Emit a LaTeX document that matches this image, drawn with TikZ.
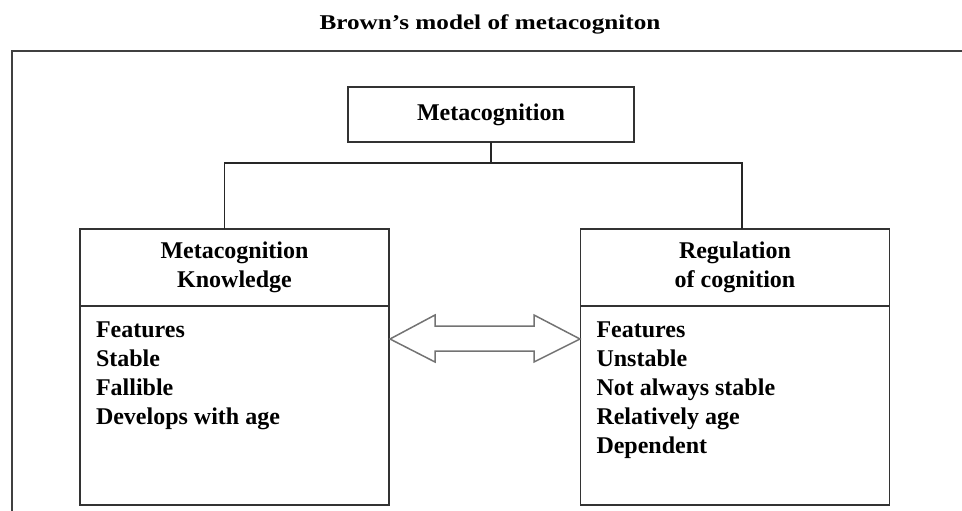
\documentclass[tikz,border=0pt]{standalone}
\usepackage{fontspec}
\setmainfont{Liberation Serif}
\usetikzlibrary{positioning}

\tikzset{
  box/.style={draw=black!80, line width=1.6pt, rectangle, inner sep=0pt, outer sep=0pt,
    font=\bfseries\fontsize{24}{29}\selectfont},
  head/.style={box, minimum width=309pt, minimum height=77pt, align=center},
  body/.style={box, minimum width=309pt, minimum height=199pt, inner xsep=16pt, inner ysep=16pt},
  link/.style={draw=black!85, line width=1.4pt},
  twoway/.style={draw=black!55, line width=1.5pt, line join=miter},
}
\newcommand{\featlist}[1]{\parbox[c][167pt][t]{277pt}{\raggedright #1}}

\begin{document}
\begin{tikzpicture}[x=1pt,y=-1pt]
  \path[use as bounding box, clip] (0,0) rectangle (962,511);
  % outer frame, runs off at right and bottom
  \draw[draw=black!75, line width=1.8pt] (975,51) -- (12,51) -- (12,525);
  \node (title) at (490,24) {\scalebox{1.2}[1]{\bfseries\fontsize{21}{25}\selectfont Brown’s model of metacogniton}};
  \node[box, minimum width=286pt, minimum height=55pt] (meta) at (491,114.5) {Metacognition};
  \node[head] (khead) at (234.5,267.5) {Metacognition\\Knowledge};
  \node[body, below=0pt of khead] (kbody) {\featlist{Features\\Stable\\Fallible\\Develops with age}};
  \node[head] (rhead) at (735,267.5) {Regulation\\of cognition};
  \node[body, below=0pt of rhead] (rbody) {\featlist{Features\\Unstable\\Not always stable\\Relatively age\\Dependent}};
  % tree connector
  \coordinate (hub) at (491,163);
  \draw[link] (meta.south) -- (hub);
  \draw[link] ([xshift=-10pt]khead.north) |- (hub) -| ([xshift=7pt]rhead.north);
  % two-way arrow between the boxes
  \draw[twoway] (390,339) -- ++(45,-24) -- ++(0,11) -- ++(99,0) -- ++(0,-11) -- ++(46,24)
    -- ++(-46,23) -- ++(0,-11) -- ++(-99,0) -- ++(0,11) -- cycle;
\end{tikzpicture}
\end{document}
